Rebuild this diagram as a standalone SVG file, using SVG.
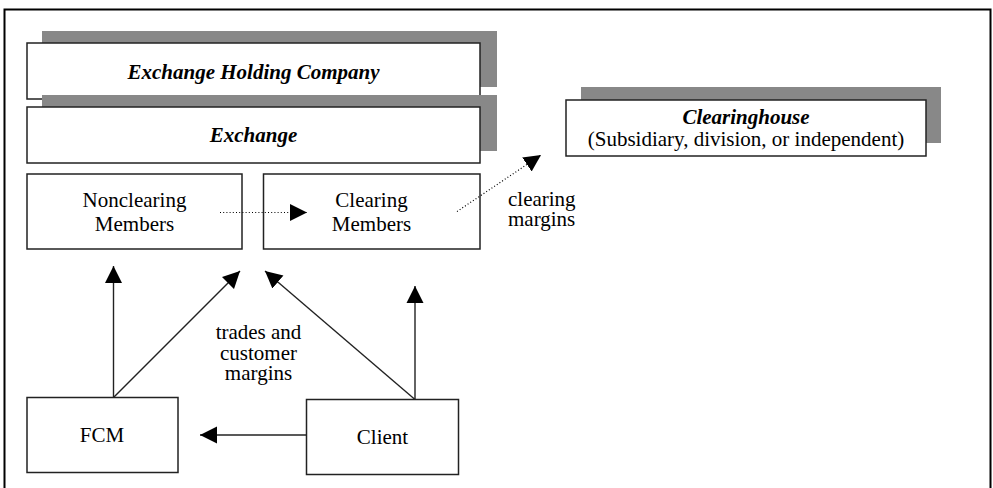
<svg xmlns="http://www.w3.org/2000/svg" width="993" height="488" viewBox="0 0 993 488">
<style>
.frame{fill:none;stroke:#000;stroke-width:2}
.shadow{fill:#888}
.box{fill:#fff;stroke:#222;stroke-width:1.5}
.t{font-family:'Liberation Serif','DejaVu Serif',serif;font-size:21px;fill:#000;text-anchor:middle}
.bi{font-weight:bold;font-style:italic}
.lbl{font-family:'Liberation Serif','DejaVu Serif',serif;font-size:21px;fill:#000}
.solid{fill:none;stroke:#222;stroke-width:1.4;marker-end:url(#ah)}
.dot{fill:none;stroke:#000;stroke-width:1.2;stroke-dasharray:1 2.2;marker-end:url(#ah)}
</style>
<defs>
<marker id="ah" markerUnits="userSpaceOnUse" markerWidth="18" markerHeight="18" refX="17" refY="9" orient="auto" viewBox="0 0 18 18">
<path d="M0,0.5 L17,9 L0,17.5 Z" fill="#000"/>
</marker>
</defs>
<rect class="frame" x="4.5" y="9.5" width="986" height="495"/>

<g id="holding">
<rect class="shadow" x="42" y="31" width="455" height="56"/>
<rect class="box" x="27" y="43" width="453" height="56"/>
<text class="t bi" x="253.5" y="79">Exchange Holding Company</text>
</g>
<g id="exchange">
<rect class="shadow" x="42" y="95" width="455" height="56"/>
<rect class="box" x="27" y="107" width="453" height="56"/>
<text class="t bi" x="253.5" y="142">Exchange</text>
</g>
<g id="clearinghouse">
<rect class="shadow" x="581" y="87" width="360" height="56"/>
<rect class="box" x="566" y="100" width="360" height="56"/>
<text class="t" x="746" y="124"><tspan class="bi">Clearinghouse</tspan><tspan x="746" y="146">(Subsidiary, division, or independent)</tspan></text>
</g>
<g id="nonclearing">
<rect class="box" x="27" y="174" width="215" height="75"/>
<text class="t" x="134.5" y="207">Nonclearing<tspan x="134.5" y="231">Members</tspan></text>
</g>
<g id="clearing">
<rect class="box" x="263.5" y="174" width="216.5" height="75"/>
<text class="t" x="371.5" y="207">Clearing<tspan x="371.5" y="231">Members</tspan></text>
</g>
<g id="fcm">
<rect class="box" x="27" y="397.5" width="151" height="75"/>
<text class="t" x="102" y="442">FCM</text>
</g>
<g id="client">
<rect class="box" x="306.5" y="399.5" width="152" height="75"/>
<text class="t" x="382.5" y="443.5">Client</text>
</g>

<g id="connectors">
<line class="solid" x1="113.5" y1="397.5" x2="113.5" y2="266"/>
<line class="solid" x1="113.5" y1="397.5" x2="240" y2="271"/>
<line class="solid" x1="415" y1="399.5" x2="265" y2="271"/>
<line class="solid" x1="415" y1="399.5" x2="415" y2="286"/>
<line class="solid" x1="306.5" y1="435" x2="200" y2="435"/>
<line class="dot" x1="220" y1="212.5" x2="307" y2="212.5"/>
<line class="dot" x1="457" y1="211.5" x2="541" y2="155"/>
<text class="lbl" x="508" y="206">clearing<tspan x="508" y="226">margins</tspan></text>
<text class="t" x="258.5" y="339">trades and<tspan x="258.5" y="359.5">customer</tspan><tspan x="258.5" y="380">margins</tspan></text>
</g>
</svg>
